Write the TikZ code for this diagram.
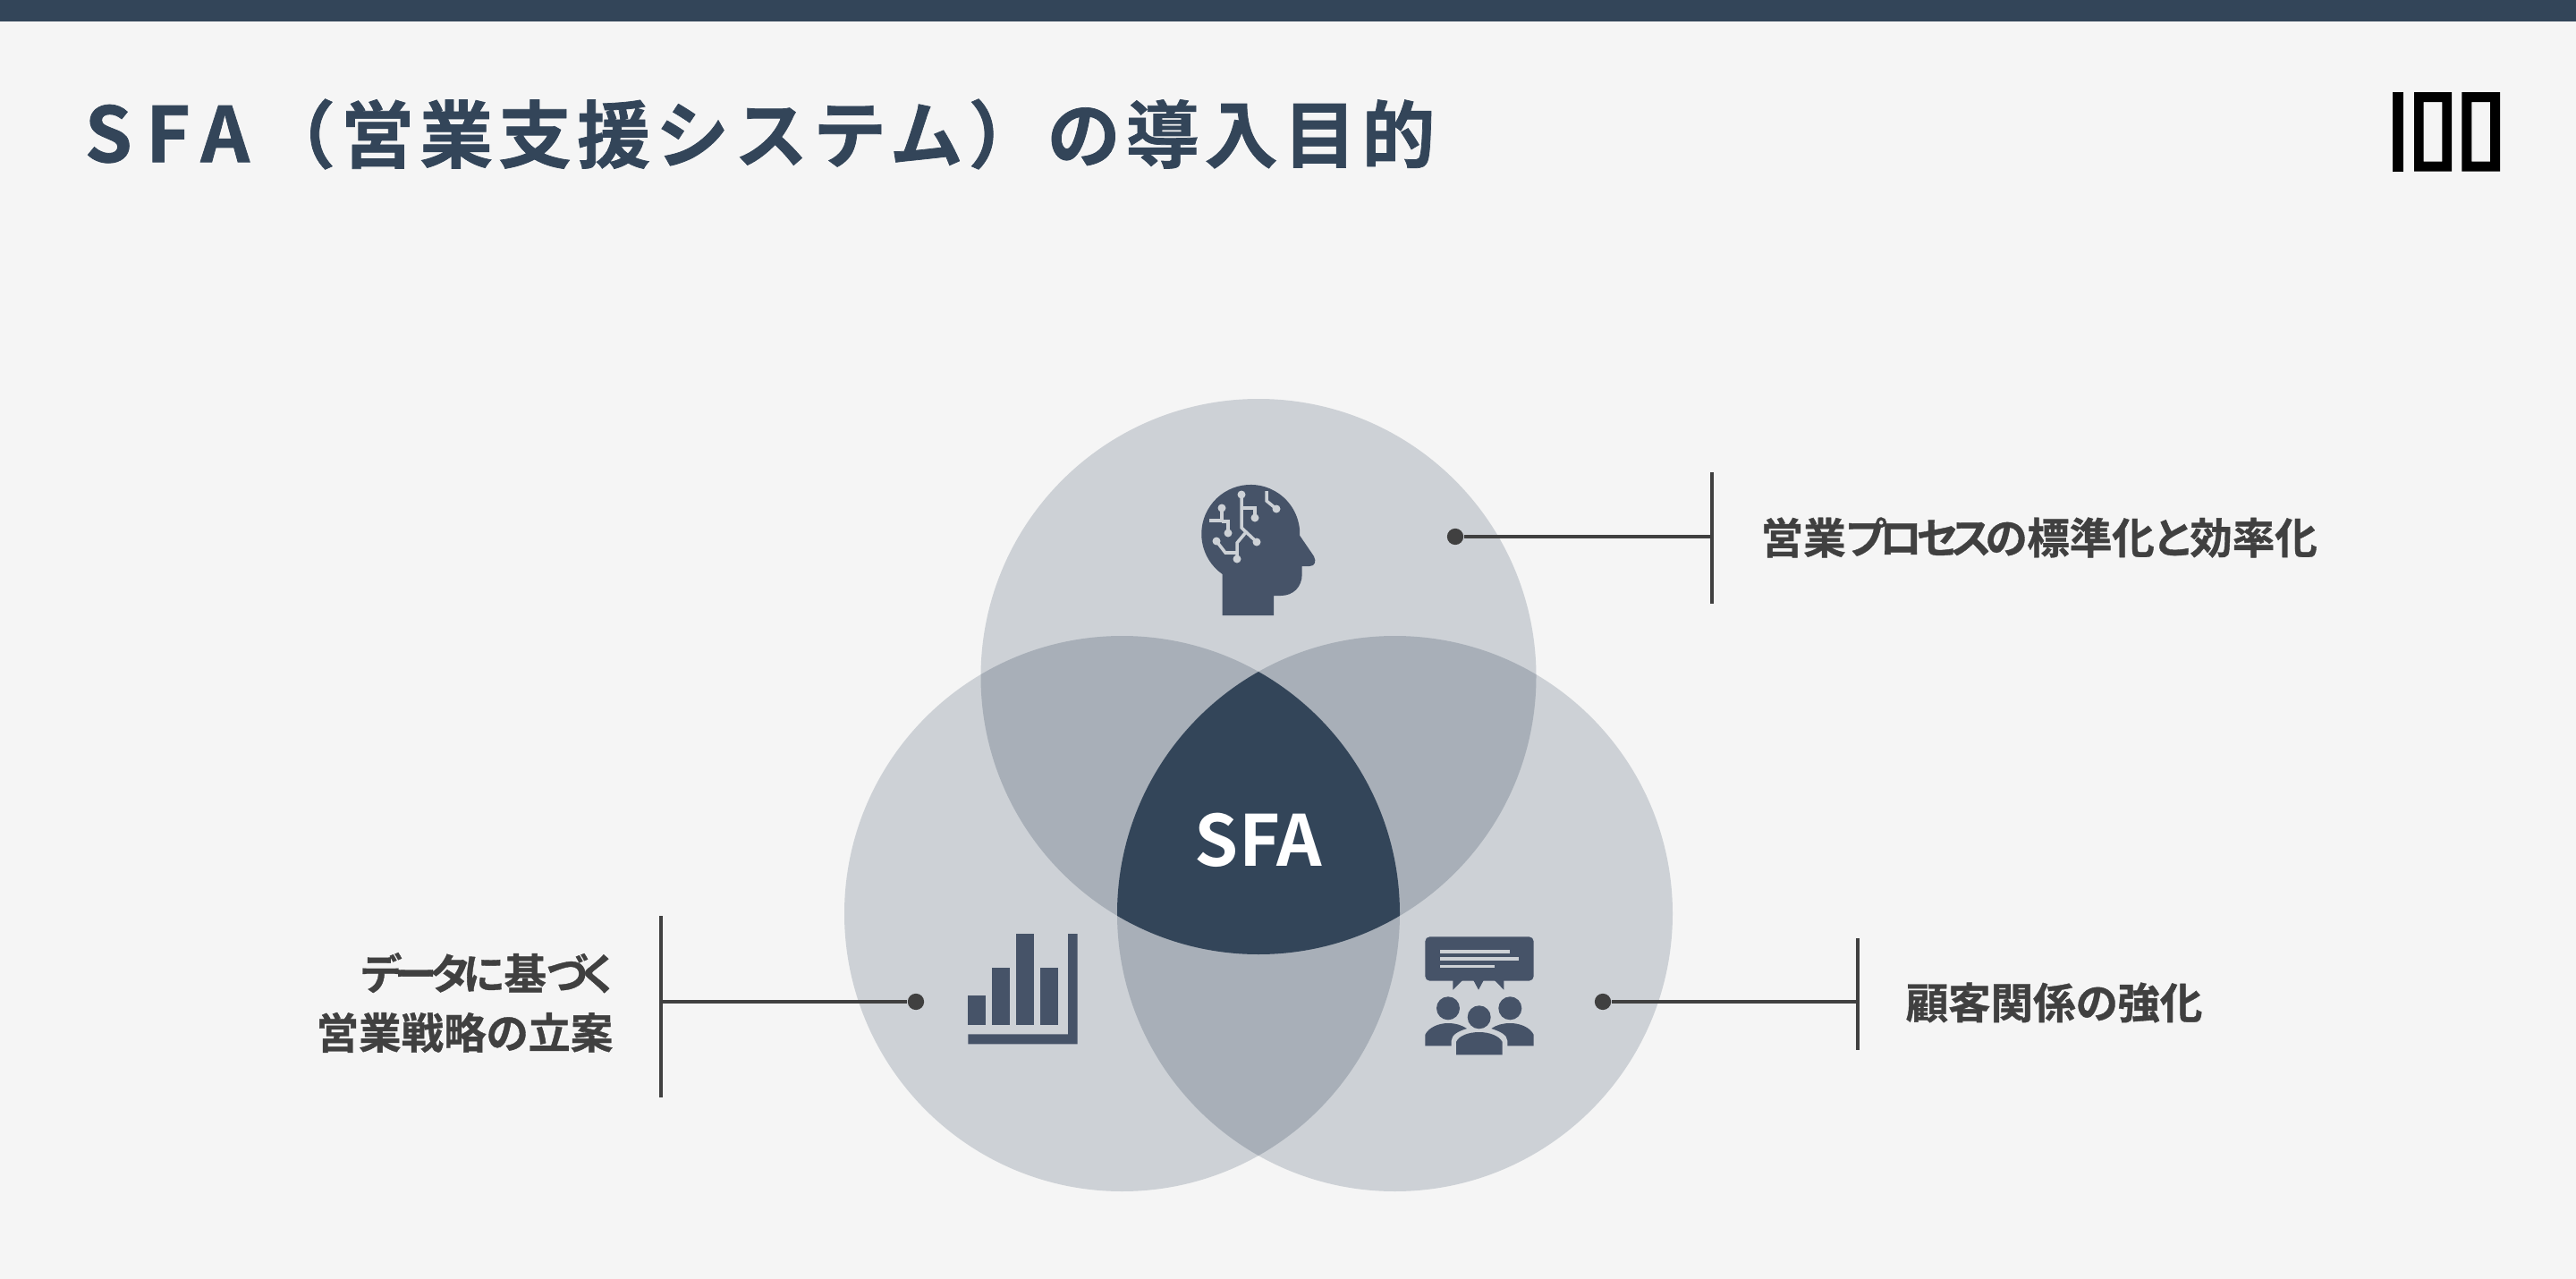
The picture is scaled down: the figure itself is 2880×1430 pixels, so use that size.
\documentclass[tikz,border=0pt]{standalone}
\usepackage{fontspec}
\usepackage{tikz}
\usetikzlibrary{positioning}
\newfontfamily\titlefont[LetterSpace=7.4,FakeBold=0.9]{Noto Sans CJK JP Bold}
\newfontfamily\titlelatin[LetterSpace=18,FakeBold=0.9]{Noto Sans CJK JP Bold}
\newfontfamily\labelfont[RawFeature=+palt,FakeBold=0.8]{Noto Sans CJK JP Bold}
\newfontfamily\kanafont[RawFeature=+palt,LetterSpace=-14,FakeBold=0.8]{Noto Sans CJK JP Bold}
\newfontfamily\coretext{Noto Sans CJK JP Bold}
\definecolor{pagebg}{HTML}{F5F5F5}
\definecolor{navy}{HTML}{334559}
\definecolor{iconblue}{HTML}{465368}
\definecolor{oneveil}{HTML}{CDD1D6}
\definecolor{twoveil}{HTML}{A8AFB8}
\definecolor{ink}{HTML}{404040}
\lineskiplimit=-20pt
\tikzset{
	leaderdot/.style={circle,fill=ink,inner sep=0pt,minimum size=5.2pt},
	leader/.style={draw=ink,line width=1pt},
	sidelabel/.style={inner sep=0pt,text=ink,font=\labelfont\fontsize{13.5}{18.8}\selectfont},
	wire/.style={draw=oneveil,line width=1pt}
}
\begin{document}
\begin{tikzpicture}[x=0.01cm,y=-0.01cm]
\useasboundingbox (0,0) rectangle (2880,1430);
\fill[pagebg] (0,0) rectangle (2880,1430);
\fill[navy] (0,0) rectangle (2880,24);
\node[anchor=west,inner sep=0pt,text=navy,font=\titlefont\fontsize{23.3}{26}\selectfont] (title) at (94,150) {{\titlelatin\fontsize{24.2}{26}\selectfont SFA}\hspace{4pt}（営業支援システム）の導入目的};
\fill[black] (2675.3,103) rectangle (2686.7,191.7);
\fill[black,even odd rule] (2699,103) rectangle (2741,191.7) (2709.7,114) rectangle (2730.3,180.7);
\fill[black,even odd rule] (2752.3,103) rectangle (2795,191.7) (2763.3,114) rectangle (2784,180.7);
\fill[oneveil] (1407,756.5) circle (310.5);
\fill[oneveil] (1254.5,1021.5) circle (310.5);
\fill[oneveil] (1559.5,1021.5) circle (310.5);
\begin{scope}
	\clip (1407,756.5) circle (310.5);
	\fill[twoveil] (1254.5,1021.5) circle (310.5);
	\fill[twoveil] (1559.5,1021.5) circle (310.5);
\end{scope}
\begin{scope}
	\clip (1254.5,1021.5) circle (310.5);
	\fill[twoveil] (1559.5,1021.5) circle (310.5);
\end{scope}
\begin{scope}
	\clip (1407,756.5) circle (310.5);
	\clip (1254.5,1021.5) circle (310.5);
	\fill[navy] (1559.5,1021.5) circle (310.5);
\end{scope}
\node[inner sep=0pt,text=white,font=\coretext\fontsize{22.4}{25}\selectfont] (core) at (1407,939) {SFA};
\fill[iconblue] (1366.7,688) -- (1366.7,642) arc[start angle=125,end angle=362,radius=55] -- (1469,622) .. controls (1472,628) and (1470,633) .. (1464,633) -- (1455.7,633) -- (1455.7,642) .. controls (1455.7,656) and (1446,666) .. (1432,666) -- (1424,666) -- (1424,688) -- cycle;
\draw[wire] (1388,553) -- (1388,590) -- (1405,606);
\draw[wire] (1393,595) -- (1383,607) -- (1383,625);
\draw[wire] (1383,618) -- (1370,618) -- (1360,605);
\draw[wire] (1388,568) -- (1403,568) -- (1403,579);
\draw[wire] (1366,568) -- (1366,582) -- (1352,582);
\draw[wire] (1366,583) -- (1373,583) -- (1373,596);
\draw[wire] (1416,549) -- (1416,560) -- (1427,569);
\foreach \px/\py in {1388/553,1405/606,1383/625,1360/605,1403/579,1366/568,1373/596,1427/569}
	\fill[oneveil] (\px,\py) circle (4.5);
\fill[iconblue] (1082.3,1113.3) rectangle (1102,1145.7);
\fill[iconblue] (1109,1082.3) rectangle (1129,1145.7);
\fill[iconblue] (1136.3,1044) rectangle (1156,1145.7);
\fill[iconblue] (1163.3,1082.3) rectangle (1183.3,1145.7);
\fill[iconblue] (1194,1044) -- (1204.7,1044) -- (1204.7,1167.3) -- (1082.3,1167.3) -- (1082.3,1156.3) -- (1194,1156.3) -- cycle;
\fill[iconblue,rounded corners=1.5pt] (1593.3,1047.3) rectangle (1714.7,1096.7);
\fill[iconblue] (1624.3,1096) -- (1624.3,1106.7) -- (1635,1096) -- cycle;
\fill[iconblue] (1647.3,1096) -- (1653,1106.7) -- (1658.7,1096) -- cycle;
\fill[iconblue] (1671,1096) -- (1681.3,1106.7) -- (1681.3,1096) -- cycle;
\fill[oneveil] (1610,1062.3) rectangle (1688,1065.7);
\fill[oneveil] (1610,1070.3) rectangle (1698,1073.7);
\fill[oneveil] (1610,1078.7) rectangle (1671.3,1082);
\foreach \px/\py in {1619/1127.3,1688.3/1127.3,1653.7/1137.3}
	\fill[iconblue] (\px,\py) circle (13);
\fill[iconblue] (1593.3,1169.3) -- (1593.3,1157) .. controls (1597,1149) and (1608,1144) .. (1619,1144) .. controls (1627,1144) and (1634,1146) .. (1640,1150) .. controls (1630,1153) and (1623,1157) .. (1622.7,1163.3) -- (1622.7,1169.3) -- cycle;
\fill[iconblue] (1714.7,1169.3) -- (1714.7,1157) .. controls (1711,1149) and (1700,1144) .. (1688.3,1144) .. controls (1680,1144) and (1673,1146) .. (1667.3,1150) .. controls (1677,1153) and (1685,1157) .. (1685.3,1163.3) -- (1685.3,1169.3) -- cycle;
\fill[iconblue] (1628,1179.3) -- (1628,1165) .. controls (1631,1158) and (1642,1154) .. (1653.7,1154) .. controls (1665,1154) and (1676,1158) .. (1679.7,1165) -- (1679.7,1179.3) -- cycle;
\node[leaderdot] (dotprocess) at (1627,600) {};
\coordinate (barprocess) at (1914,600);
\draw[leader] (dotprocess) -- (barprocess);
\draw[leader] (1914,528) -- (1914,675);
\node[sidelabel,anchor=west] (process) at (1968,601) {営業{\kanafont プロセスの}標準化{\kanafont と}効率化};
\node[leaderdot] (dotstrategy) at (1024,1120) {};
\coordinate (barstrategy) at (739,1120);
\draw[leader] (dotstrategy) -- (barstrategy);
\draw[leader] (739,1024) -- (739,1227);
\node[sidelabel,anchor=east,align=right] (strategy) at (686,1121) {{\kanafont データに}基{\kanafont づく}\\営業戦略の立案};
\node[leaderdot] (dotclient) at (1792,1120) {};
\coordinate (barclient) at (2077,1120);
\draw[leader] (dotclient) -- (barclient);
\draw[leader] (2077,1049) -- (2077,1174);
\node[sidelabel,anchor=west] (client) at (2130,1121) {顧客関係の強化};
\end{tikzpicture}
\end{document}
